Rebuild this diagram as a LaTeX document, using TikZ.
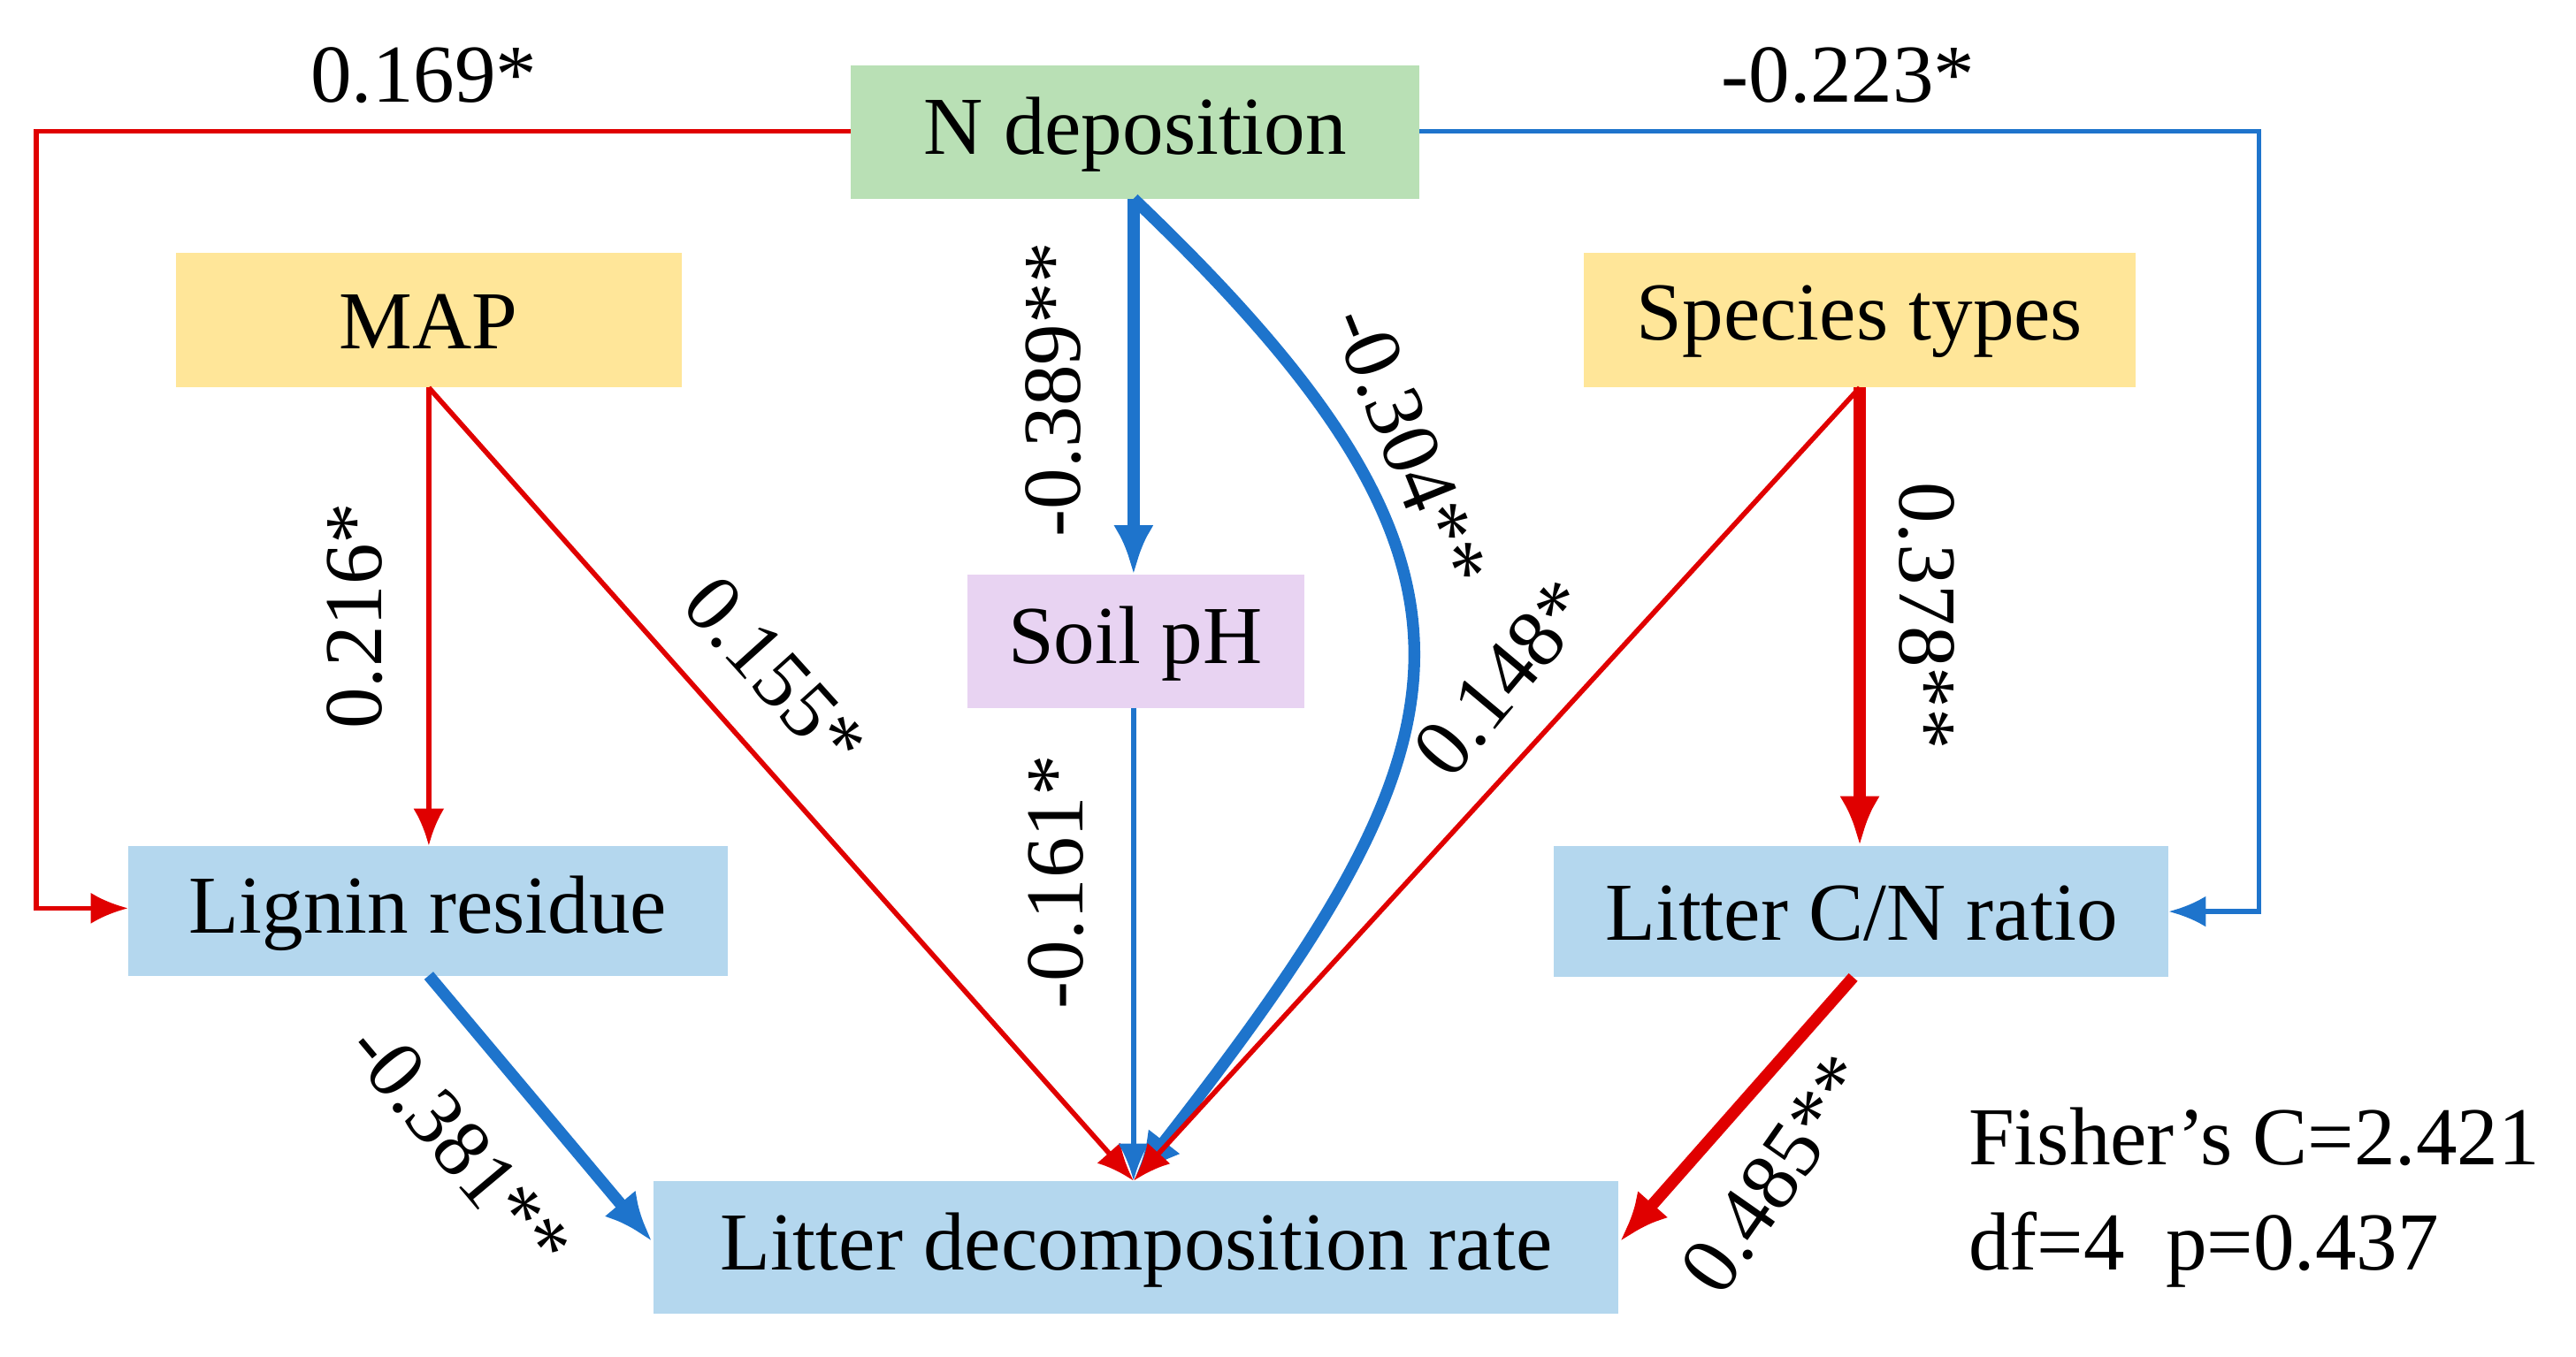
\documentclass[tikz,border=0pt]{standalone}
\usepackage{fontspec}
\setmainfont{Liberation Serif}
\usetikzlibrary{arrows.meta}
\definecolor{ngreen}{HTML}{B9E0B5}
\definecolor{nyellow}{HTML}{FFE699}
\definecolor{nlilac}{HTML}{E8D3F2}
\definecolor{nblue}{HTML}{B4D7EE}
\definecolor{ared}{HTML}{E00000}
\definecolor{ablue}{HTML}{1E74CC}
\begin{document}
\begin{tikzpicture}[x=0.018578cm,y=-0.018578cm,
  box/.style={draw=none,inner sep=0,font=\fontsize{26.5}{31}\selectfont},
  lab/.style={font=\fontsize{26.5}{31}\selectfont,inner sep=1pt},
  thin/.style={line width=1.6pt,-{Latex[length=12pt,width=10pt]}},
  thick/.style={line width=3.8pt,-{Latex[length=16pt,width=13pt]}}]
\useasboundingbox (0,0) rectangle (1568,826);
\fill[ngreen] (518,40) rectangle (864,121); \node[box] (N) at (691,82) {N deposition};
\fill[nyellow] (107,154) rectangle (415,236); \node[box] (M) at (261,196) {MAP};
\fill[nyellow] (964,154) rectangle (1300,236); \node[box] (S) at (1132,196) {Species types};
\fill[nlilac] (589,350) rectangle (794,431); \node[box] (P) at (691,392) {Soil pH};
\fill[nblue] (78,515) rectangle (443,594); \node[box] (L) at (260.5,556) {Lignin residue};
\fill[nblue] (946,515) rectangle (1320,595); \node[box] (C) at (1133,556) {Litter C/N ratio};
\fill[nblue] (398,719) rectangle (985,800); \node[box] (D) at (691.5,761) {Litter decomposition rate};
\coordinate (Nl) at (518,80); \coordinate (Nr) at (864,80); \coordinate (Nb) at (690,121);
\coordinate (Mb) at (261,236); \coordinate (Sb) at (1132,236);
\coordinate (Lt) at (261,515); \coordinate (Ll) at (78,553); \coordinate (Lb) at (261,594);
\coordinate (Ct) at (1132,515); \coordinate (Cr) at (1320,555); \coordinate (Cb) at (1128,595);
\coordinate (Pt) at (690,350); \coordinate (Pb) at (690,431);
\coordinate (Dt) at (690,719); \coordinate (Dl) at (397,756); \coordinate (Dr) at (986,756);
\draw[thin,ared] (Nl) -- (22,80) -- (22,553) -- (Ll);
\draw[thin,ablue] (Nr) -- (1375,80) -- (1375,555) -- (Cr);
\draw[thick,ablue] (Nb) -- (Pt);
\draw[thick,ablue] (Nb) .. controls (930,350) and (900,450) .. (Dt);
\draw[thin,ared] (Mb) -- (Lt);
\draw[thin,ared] (Mb) -- (Dt);
\draw[thin,ablue] (Pb) -- (Dt);
\draw[thin,ared] (Sb) -- (Dt);
\draw[thick,ared] (Sb) -- (Ct);
\draw[thick,ablue] (Lb) -- (Dl);
\draw[thick,ared] (Cb) -- (Dr);
\node[lab] at (258,46) {0.169*};
\node[lab] at (1125,46) {-0.223*};
\node[lab,rotate=90] at (641,237) {-0.389**};
\node[lab,rotate=-68] at (858,272) {-0.304**};
\node[lab,rotate=90] at (216,375) {0.216*};
\node[lab,rotate=-48] at (472,410) {0.155*};
\node[lab,rotate=90] at (643,537) {-0.161*};
\node[lab,rotate=50] at (915,413) {0.148*};
\node[lab,rotate=-90] at (1173,375) {0.378**};
\node[lab,rotate=-50] at (280,698) {-0.381**};
\node[lab,rotate=55] at (1081,715) {0.485**};
\node[lab,anchor=west] (F) at (1196,692) {Fisher’s C=2.421};
\node[lab,anchor=west] (G) at (1196,761) {df=4\ \ p=0.437};
\end{tikzpicture}
\end{document}
